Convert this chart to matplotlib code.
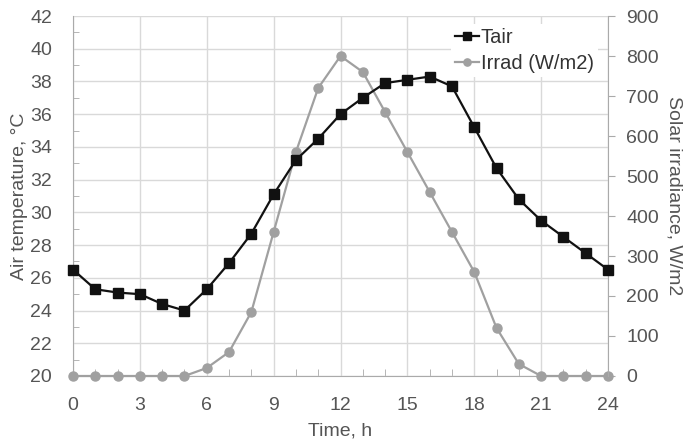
import matplotlib
matplotlib.use("Agg")
import matplotlib.pyplot as plt
from matplotlib.ticker import MultipleLocator

plt.rcParams['font.family'] = ['Liberation Sans', 'DejaVu Sans']

hours = list(range(25))
tair = [26.5, 25.3, 25.1, 25.0, 24.4, 24.0, 25.3, 26.9, 28.7, 31.1, 33.2, 34.5, 36.0,
        37.0, 37.9, 38.1, 38.3, 37.7, 35.2, 32.7, 30.8, 29.5, 28.5, 27.5, 26.5]
irrad = [0, 0, 0, 0, 0, 0, 20, 60, 160, 360, 560, 720, 800,
         760, 660, 560, 460, 360, 260, 120, 30, 0, 0, 0, 0]

x_ticks = [0, 3, 6, 9, 12, 15, 18, 21, 24]
left_ticks = list(range(20, 43, 2))
right_ticks = list(range(0, 901, 100))

txt = '#555555'
grid = '#d9d9d9'
spine = '#aaaaaa'

fig = plt.figure(figsize=(6.85, 4.41), dpi=100)
ax = fig.add_axes([0.1066, 0.1474, 0.781, 0.8163])
ax2 = ax.twinx()

ax.set_xlim(0, 24)
ax.set_ylim(20, 42)
ax2.set_ylim(0, 900)
ax.set_xticks(x_ticks)
ax.set_yticks(left_ticks)
ax.xaxis.set_minor_locator(MultipleLocator(1))
ax.yaxis.set_minor_locator(MultipleLocator(1))

ax.grid(True, which='major', color=grid, linewidth=1.0)
ax.set_axisbelow(True)

l2, = ax2.plot(hours, irrad, color='#a0a0a0', marker='o', markersize=6.5,
               linewidth=1.6, label='Irrad (W/m2)', clip_on=False, zorder=2)
l1, = ax2.plot([], [], color='#111111', marker='s', markersize=7, linewidth=1.6, label='Tair')
ax2.set_zorder(ax.get_zorder() + 1)
ax2.patch.set_visible(False)

ax3 = ax2.twinx()
ax3.set_ylim(20, 42)
ax3.axis('off')
ax3.plot(hours, tair, color='#111111', marker='s', markersize=7, linewidth=1.6,
         clip_on=False, zorder=3)

ax2.yaxis.tick_right()
ax2.yaxis.set_label_position('right')
ax2.set_yticks(right_ticks)

for a in (ax, ax2):
    for s in a.spines.values():
        s.set_color(spine)
    a.spines['top'].set_visible(False)
ax.spines['right'].set_visible(False)
ax2.spines['left'].set_visible(False)
ax2.spines['bottom'].set_visible(False)

ax.tick_params(axis='y', which='major', labelsize=14, colors=txt, length=0, pad=15)
ax.tick_params(axis='x', which='major', labelsize=14, colors=txt, length=0, pad=15)
ax.tick_params(axis='both', which='minor', length=4, direction='in', color=spine)
ax.tick_params(axis='x', which='minor', length=5, direction='in')
ax2.tick_params(axis='y', labelsize=14, colors=txt, length=5, direction='out', color=spine, pad=8,
                left=False, labelleft=False, right=True, labelright=True)
for lbl in ax.get_xticklabels() + ax.get_yticklabels() + ax2.get_yticklabels():
    lbl.set_color(txt)

ax.set_xlabel('Time, h', fontsize=14, color=txt, labelpad=6)
ax.set_ylabel('Air temperature, °C', fontsize=14, color=txt, labelpad=2)
ax2.set_ylabel('Solar irradiance, W/m2', fontsize=14, color=txt, rotation=270, labelpad=17)

leg = ax3.legend([l1, l2], ['Tair', 'Irrad (W/m2)'], loc='upper right',
                 bbox_to_anchor=(1.0, 1.005), frameon=True, fontsize=14.5,
                 handlelength=1.2, handletextpad=0.1, borderpad=0.2, labelspacing=0.35,
                 markerscale=0.8)
leg.get_frame().set_edgecolor('none')
leg.get_frame().set_facecolor('white')
leg.get_frame().set_alpha(1)
for t in leg.get_texts():
    t.set_color('#333333')

fig.savefig('out.png', dpi=100)
